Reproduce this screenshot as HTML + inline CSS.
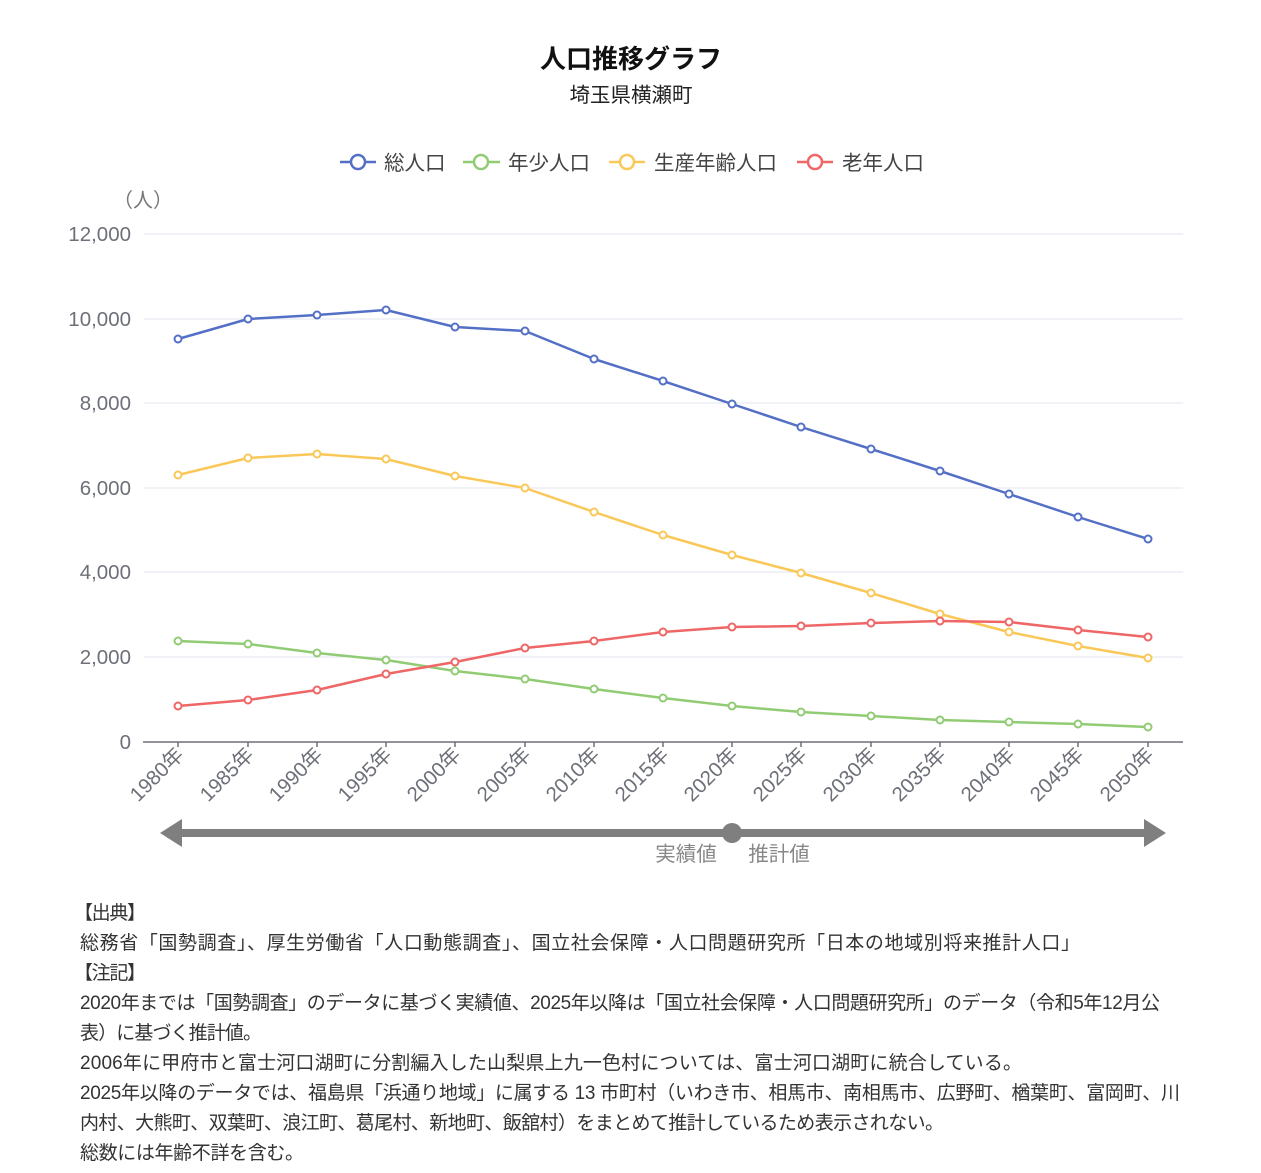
<!DOCTYPE html>
<html><head><meta charset="utf-8">
<style>
html,body{margin:0;padding:0;background:#fff;}
body{width:1261px;height:1173px;overflow:hidden;position:relative;}
svg{position:absolute;left:0;top:0;}
</style></head><body>
<svg width="1261" height="1173" viewBox="0 0 1261 1173" xmlns="http://www.w3.org/2000/svg" font-family="Liberation Sans, Noto Sans CJK JP, sans-serif">
<text x="631" y="68" text-anchor="middle" font-size="26" font-weight="bold" fill="#111">人口推移グラフ</text>
<text x="631" y="102" text-anchor="middle" font-size="20.5" fill="#222">埼玉県横瀬町</text>
<!-- legend -->
<g font-size="20.5" fill="#444">
<line x1="340" y1="162" x2="376" y2="162" stroke="#5470c6" stroke-width="2.5"/><circle cx="358" cy="162" r="7" fill="#fff" stroke="#5470c6" stroke-width="2.5"/><text x="384" y="170">総人口</text>
<line x1="463" y1="162" x2="500" y2="162" stroke="#91cc75" stroke-width="2.5"/><circle cx="481" cy="162" r="7" fill="#fff" stroke="#91cc75" stroke-width="2.5"/><text x="508" y="170">年少人口</text>
<line x1="609" y1="162" x2="645" y2="162" stroke="#fac858" stroke-width="2.5"/><circle cx="627" cy="162" r="7" fill="#fff" stroke="#fac858" stroke-width="2.5"/><text x="654" y="170">生産年齢人口</text>
<line x1="797" y1="162" x2="833" y2="162" stroke="#ee6666" stroke-width="2.5"/><circle cx="815" cy="162" r="7" fill="#fff" stroke="#ee6666" stroke-width="2.5"/><text x="842" y="170">老年人口</text>
</g>
<text x="143" y="207" text-anchor="middle" font-size="20" fill="#777">（人）</text>
<!-- grid -->
<g stroke="#e0e6f1" stroke-width="1">
<line x1="144" y1="234" x2="1183" y2="234"/>
<line x1="144" y1="319" x2="1183" y2="319"/>
<line x1="144" y1="403" x2="1183" y2="403"/>
<line x1="144" y1="488" x2="1183" y2="488"/>
<line x1="144" y1="572" x2="1183" y2="572"/>
<line x1="144" y1="657" x2="1183" y2="657"/>
</g>
<g font-size="20.5" fill="#6e7079" text-anchor="end">
<text x="131" y="241">12,000</text>
<text x="131" y="326">10,000</text>
<text x="131" y="410">8,000</text>
<text x="131" y="495">6,000</text>
<text x="131" y="579">4,000</text>
<text x="131" y="664">2,000</text>
<text x="131" y="749">0</text>
</g>
<line x1="143" y1="742" x2="1183" y2="742" stroke="#6e7079" stroke-width="1.5"/>
<g stroke="#6e7079" stroke-width="1.5">
<line x1="178" y1="742" x2="178" y2="747"/><line x1="248" y1="742" x2="248" y2="747"/><line x1="317" y1="742" x2="317" y2="747"/><line x1="386" y1="742" x2="386" y2="747"/><line x1="455" y1="742" x2="455" y2="747"/><line x1="525" y1="742" x2="525" y2="747"/><line x1="594" y1="742" x2="594" y2="747"/><line x1="663" y1="742" x2="663" y2="747"/><line x1="732" y1="742" x2="732" y2="747"/><line x1="801" y1="742" x2="801" y2="747"/><line x1="871" y1="742" x2="871" y2="747"/><line x1="940" y1="742" x2="940" y2="747"/><line x1="1009" y1="742" x2="1009" y2="747"/><line x1="1078" y1="742" x2="1078" y2="747"/><line x1="1148" y1="742" x2="1148" y2="747"/>
</g>
<g font-size="20.5" fill="#6e7079" text-anchor="end">
<text transform="translate(185,756) rotate(-45)">1980年</text>
<text transform="translate(255,756) rotate(-45)">1985年</text>
<text transform="translate(324,756) rotate(-45)">1990年</text>
<text transform="translate(393,756) rotate(-45)">1995年</text>
<text transform="translate(462,756) rotate(-45)">2000年</text>
<text transform="translate(532,756) rotate(-45)">2005年</text>
<text transform="translate(601,756) rotate(-45)">2010年</text>
<text transform="translate(670,756) rotate(-45)">2015年</text>
<text transform="translate(739,756) rotate(-45)">2020年</text>
<text transform="translate(808,756) rotate(-45)">2025年</text>
<text transform="translate(878,756) rotate(-45)">2030年</text>
<text transform="translate(947,756) rotate(-45)">2035年</text>
<text transform="translate(1016,756) rotate(-45)">2040年</text>
<text transform="translate(1085,756) rotate(-45)">2045年</text>
<text transform="translate(1155,756) rotate(-45)">2050年</text>
</g>
<!-- series -->
<g fill="none" stroke-width="2.5" stroke-linejoin="round">
<polyline stroke="#5470c6" points="178,339 248,319 317,315 386,310 455,327 525,331 594,359 663,381 732,404 801,427 871,449 940,471 1009,494 1078,517 1148,539"/>
<polyline stroke="#fac858" points="178,475 248,458 317,454 386,459 455,476 525,488 594,512 663,535 732,555 801,573 871,593 940,614 1009,632 1078,646 1148,658"/>
<polyline stroke="#91cc75" points="178,641 248,644 317,653 386,660 455,671 525,679 594,689 663,698 732,706 801,712 871,716 940,720 1009,722 1078,724 1148,727"/>
<polyline stroke="#ee6666" points="178,706 248,700 317,690 386,674 455,662 525,648 594,641 663,632 732,627 801,626 871,623 940,621 1009,622 1078,630 1148,637"/>
</g>
<g fill="#fff" stroke-width="2">
<g stroke="#5470c6"><circle cx="178" cy="339" r="3.5"/><circle cx="248" cy="319" r="3.5"/><circle cx="317" cy="315" r="3.5"/><circle cx="386" cy="310" r="3.5"/><circle cx="455" cy="327" r="3.5"/><circle cx="525" cy="331" r="3.5"/><circle cx="594" cy="359" r="3.5"/><circle cx="663" cy="381" r="3.5"/><circle cx="732" cy="404" r="3.5"/><circle cx="801" cy="427" r="3.5"/><circle cx="871" cy="449" r="3.5"/><circle cx="940" cy="471" r="3.5"/><circle cx="1009" cy="494" r="3.5"/><circle cx="1078" cy="517" r="3.5"/><circle cx="1148" cy="539" r="3.5"/></g>
<g stroke="#fac858"><circle cx="178" cy="475" r="3.5"/><circle cx="248" cy="458" r="3.5"/><circle cx="317" cy="454" r="3.5"/><circle cx="386" cy="459" r="3.5"/><circle cx="455" cy="476" r="3.5"/><circle cx="525" cy="488" r="3.5"/><circle cx="594" cy="512" r="3.5"/><circle cx="663" cy="535" r="3.5"/><circle cx="732" cy="555" r="3.5"/><circle cx="801" cy="573" r="3.5"/><circle cx="871" cy="593" r="3.5"/><circle cx="940" cy="614" r="3.5"/><circle cx="1009" cy="632" r="3.5"/><circle cx="1078" cy="646" r="3.5"/><circle cx="1148" cy="658" r="3.5"/></g>
<g stroke="#91cc75"><circle cx="178" cy="641" r="3.5"/><circle cx="248" cy="644" r="3.5"/><circle cx="317" cy="653" r="3.5"/><circle cx="386" cy="660" r="3.5"/><circle cx="455" cy="671" r="3.5"/><circle cx="525" cy="679" r="3.5"/><circle cx="594" cy="689" r="3.5"/><circle cx="663" cy="698" r="3.5"/><circle cx="732" cy="706" r="3.5"/><circle cx="801" cy="712" r="3.5"/><circle cx="871" cy="716" r="3.5"/><circle cx="940" cy="720" r="3.5"/><circle cx="1009" cy="722" r="3.5"/><circle cx="1078" cy="724" r="3.5"/><circle cx="1148" cy="727" r="3.5"/></g>
<g stroke="#ee6666"><circle cx="178" cy="706" r="3.5"/><circle cx="248" cy="700" r="3.5"/><circle cx="317" cy="690" r="3.5"/><circle cx="386" cy="674" r="3.5"/><circle cx="455" cy="662" r="3.5"/><circle cx="525" cy="648" r="3.5"/><circle cx="594" cy="641" r="3.5"/><circle cx="663" cy="632" r="3.5"/><circle cx="732" cy="627" r="3.5"/><circle cx="801" cy="626" r="3.5"/><circle cx="871" cy="623" r="3.5"/><circle cx="940" cy="621" r="3.5"/><circle cx="1009" cy="622" r="3.5"/><circle cx="1078" cy="630" r="3.5"/><circle cx="1148" cy="637" r="3.5"/></g>
</g>
<!-- arrow -->
<rect x="180" y="829" width="966" height="8" fill="#7f7f7f"/>
<polygon points="160,833 182,819 182,847" fill="#7f7f7f"/>
<polygon points="1166,833 1144,819 1144,847" fill="#7f7f7f"/>
<circle cx="732" cy="833" r="10" fill="#7f7f7f"/>
<text x="686" y="861" text-anchor="middle" font-size="20.5" fill="#888">実績値</text>
<text x="779" y="861" text-anchor="middle" font-size="20.5" fill="#888">推計値</text>
<!-- notes -->
<g font-size="19" fill="#333">
<text x="74" y="919" textLength="72" lengthAdjust="spacing">【出典】</text>
<text x="80" y="949" textLength="1000" lengthAdjust="spacing">総務省「国勢調査」、厚生労働省「人口動態調査」、国立社会保障・人口問題研究所「日本の地域別将来推計人口」</text>
<text x="74" y="979" textLength="72" lengthAdjust="spacing">【注記】</text>
<text x="80" y="1009" textLength="1080" lengthAdjust="spacing">2020年までは「国勢調査」のデータに基づく実績値、2025年以降は「国立社会保障・人口問題研究所」のデータ（令和5年12月公</text>
<text x="80" y="1039" textLength="182" lengthAdjust="spacing">表）に基づく推計値。</text>
<text x="80" y="1069" textLength="942" lengthAdjust="spacing">2006年に甲府市と富士河口湖町に分割編入した山梨県上九一色村については、富士河口湖町に統合している。</text>
<text x="80" y="1099" textLength="1100" lengthAdjust="spacing">2025年以降のデータでは、福島県「浜通り地域」に属する 13 市町村（いわき市、相馬市、南相馬市、広野町、楢葉町、富岡町、川</text>
<text x="80" y="1129" textLength="864" lengthAdjust="spacing">内村、大熊町、双葉町、浪江町、葛尾村、新地町、飯舘村）をまとめて推計しているため表示されない。</text>
<text x="80" y="1159" textLength="224" lengthAdjust="spacing">総数には年齢不詳を含む。</text>
</g>
</svg>
</body></html>
